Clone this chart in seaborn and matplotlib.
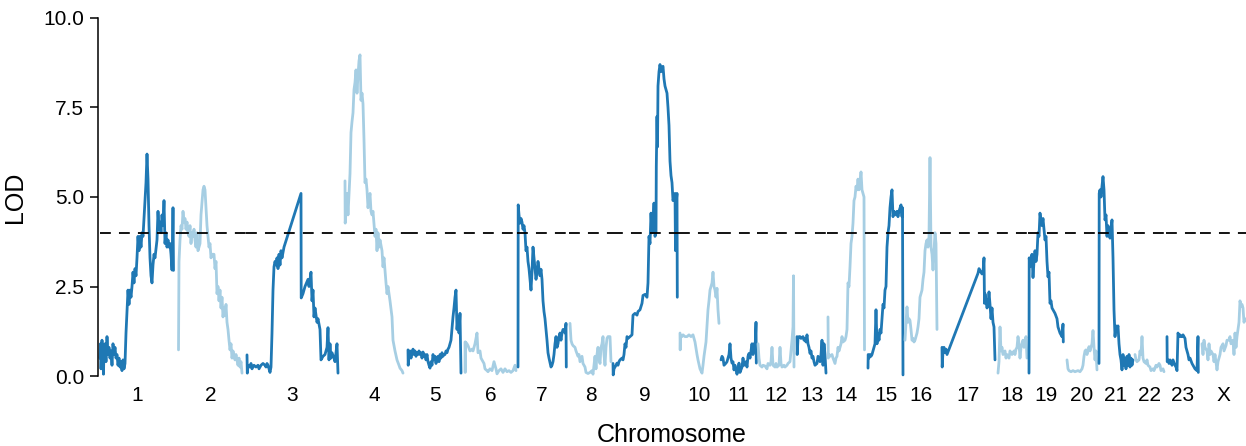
import matplotlib
matplotlib.use("Agg")
import matplotlib.pyplot as plt
import numpy as np
import pandas as pd
import seaborn as sns

# ---------------- data ----------------
chrom_names = ["1", "2", "3", "4", "5", "6", "7", "8", "9", "10", "11", "12",
               "13", "14", "15", "16", "17", "18", "19", "20", "21", "22", "23", "X"]
chrom_lengths = [78, 68, 98, 63, 57, 53, 52, 43, 67, 41, 37, 39,
                 31, 40, 37, 36, 57, 31, 37, 33, 36, 32, 34, 46]
threshold = 4.0

chr1_scan = [(0, 0.5), (0.5, 0.9), (1, 0.2), (2, 1.0), (3, 0.4), (3.5, 0.05), (4, 0.8), (5, 0.9), (6, 0.4),
             (7, 1.1), (8, 0.6), (9, 0.8), (10, 0.5), (11, 0.7), (12, 0.3), (13, 0.9), (14, 0.6), (15, 0.8),
             (16, 0.5), (17, 0.6), (18, 0.3), (19, 0.5), (20, 0.25), (21, 0.4), (22, 0.15), (23, 0.45),
             (24, 0.2), (25, 0.35), (26, 1.2), (28, 2.4), (29, 2.0), (30, 2.4), (31, 2.2), (32, 2.5),
             (33, 2.9), (34, 2.6), (35, 3.0), (36, 2.8), (37, 3.3), (38, 3.9), (39, 3.5), (40, 3.9),
             (41, 3.6), (42, 4.0), (43, 3.9), (44, 4.4), (45, 4.9), (46, 5.4), (47, 6.2), (48, 5.5),
             (49, 4.2), (50, 3.3), (51, 2.8), (52, 2.6), (53, 3.1), (54, 3.4), (55, 3.3), (57, 3.8),
             (58, 4.6), (59, 4.1), (60, 4.3), (61, 4.0), (62, 4.5), (63, 4.2), (64, 4.9), (65, 3.7),
             (66, 4.0), (67, 3.6), (68, 3.8), (69, 3.6), (70, 3.7), (71, 3.4), (72, 2.96), (72.5, 3.6),
             (73, 4.7), (73.5, 2.95)]
chr2_scan = [(0.5, 0.73), (1, 3.2), (2, 3.8), (3, 4.2), (4, 4.1), (5, 4.6), (6, 4.3), (7, 4.4), (8, 4.1),
             (9, 4.3), (10, 4.0), (11, 3.9), (12, 4.2), (13, 3.7), (14, 4.0), (15, 3.9), (16, 4.1),
             (17, 3.8), (18, 3.6), (19, 4.0), (20, 3.5), (22, 3.7), (23, 4.5), (25, 5.2), (26, 5.3),
             (27, 5.2), (28, 4.7), (29, 4.2), (30, 3.9), (31, 3.6), (32, 3.7), (33, 3.3), (34, 3.4),
             (36, 3.4), (37, 3.0), (38, 3.2), (39, 2.3), (40, 2.5), (41, 2.1), (42, 2.4), (43, 1.9),
             (44, 2.2), (45, 1.65), (46, 1.9), (47, 1.7), (48, 2.0), (49, 1.5), (50, 1.3), (51, 1.0),
             (52, 0.73), (53, 0.9), (54, 0.5), (55, 0.7), (57, 0.45), (58, 0.6), (60, 0.3), (61, 0.5),
             (62, 0.25), (63, 0.4), (64, 0.08)]
chr3_scan = [(1, 0.59), (1.3, 0.08), (2, 0.3), (4, 0.25), (5, 0.35), (6, 0.2), (8, 0.3), (10, 0.25),
             (12, 0.3), (13, 0.2), (15, 0.3), (17, 0.35), (19, 0.3), (20, 0.25), (21, 0.35), (22, 0.3),
             (23, 0.2), (24, 0.1), (25, 0.25), (26, 1.2), (27, 2.4), (28, 3.05), (29, 3.2), (30, 3.1),
             (31, 3.3), (32, 3.0), (33, 3.4), (34, 3.1), (35, 3.5), (36, 3.3), (38, 3.6), (55, 5.1),
             (55.2, 2.18), (57, 2.3), (59, 2.5), (62, 2.7), (63, 2.5), (65, 2.9), (66, 2.1), (67, 2.4),
             (68, 1.65), (69, 1.9), (71, 1.5), (72, 1.6), (74, 1.3), (75, 0.45), (77, 0.55), (79, 0.6),
             (81, 0.8), (82, 1.35), (83, 0.45), (84, 0.9), (85, 0.5), (86, 0.65), (88, 0.5), (89, 0.4),
             (91, 0.9), (92, 0.08)]
chr4_scan = [(1, 5.45), (1.2, 4.27), (2, 4.6), (3, 5.1), (4, 4.5), (6, 5.65), (7, 6.8), (8, 7.1),
             (9, 7.35), (10, 8.0), (11, 8.2), (12, 8.55), (13, 7.9), (14, 8.4), (15, 8.8), (16, 8.97),
             (17, 7.7), (18, 7.9), (19, 7.6), (20, 6.6), (21, 5.4), (22, 5.5), (23, 5.2), (24, 4.7),
             (25, 4.9), (26, 5.1), (27, 4.6), (28, 4.5), (29, 4.6), (31, 3.9), (32, 4.1), (33, 3.5),
             (34, 4.0), (35, 3.6), (36, 3.8), (38, 3.5), (39, 3.05), (40, 3.3), (42, 2.6), (43, 2.3),
             (44, 2.5), (46, 2.1), (48, 1.65), (49, 1.0), (51, 0.7), (53, 0.45), (55, 0.3), (56, 0.22),
             (58, 0.15), (59, 0.08)]
chr5_scan = [(1, 0.73), (1.2, 0.3), (2, 0.6), (3, 0.7), (4, 0.5), (5, 0.65), (6, 0.75), (7, 0.6),
             (8, 0.7), (9, 0.55), (10, 0.65), (11, 0.6), (12, 0.7), (13, 0.6), (14, 0.65), (15, 0.5),
             (16, 0.67), (17, 0.55), (18, 0.6), (19, 0.45), (20, 0.6), (21, 0.4), (22, 0.3), (23, 0.22),
             (24, 0.4), (25, 0.3), (26, 0.6), (27, 0.45), (28, 0.55), (29, 0.35), (30, 0.5), (31, 0.55),
             (32, 0.4), (33, 0.6), (34, 0.5), (35, 0.65), (36, 0.55), (37, 0.6), (38, 0.6), (39, 0.7),
             (40, 0.65), (41, 0.75), (42, 0.8), (44, 1.0), (46, 1.65), (47, 1.9), (48, 2.2), (49, 2.4),
             (50, 1.3), (51, 1.65), (52, 1.2), (53, 1.75), (54, 0.08)]
chr6_scan = [(1, 0.95), (1.2, 0.1), (1.5, 0.95), (3, 0.9), (4, 0.85), (6, 0.7), (8, 0.75), (9, 0.7),
             (11, 0.9), (13, 1.2), (14, 0.65), (16, 0.7), (17, 0.5), (18, 0.45), (20, 0.35), (21, 0.2),
             (23, 0.15), (24, 0.12), (26, 0.2), (28, 0.15), (30, 0.4), (32, 0.2), (33, 0.06), (35, 0.15),
             (37, 0.2), (39, 0.1), (41, 0.2), (43, 0.12), (45, 0.15), (47, 0.1), (49, 0.15), (51, 0.3),
             (52, 0.15)]
chr7_scan = [(1, 0.25), (1.2, 4.78), (2, 4.5), (3, 4.27), (4, 4.4), (5, 4.3), (6, 4.1), (7, 4.2),
             (8, 4.0), (9, 3.5), (10, 3.6), (11, 3.2), (12, 3.0), (13, 2.7), (14, 2.4), (15, 2.9),
             (16, 3.6), (17, 3.3), (18, 3.0), (19, 2.7), (20, 2.9), (21, 3.2), (22, 3.0), (23, 2.8),
             (24, 2.98), (25, 2.7), (26, 2.1), (27, 1.8), (28, 1.6), (29, 1.3), (30, 1.0), (31, 0.65),
             (32, 0.5), (34, 0.25), (35, 0.3), (36, 0.4), (37, 0.6), (38, 0.9), (39, 1.1), (40, 0.8),
             (41, 0.9), (42, 1.1), (43, 1.2), (44, 1.0), (45, 1.2), (46, 1.3), (47, 1.3), (48, 1.2),
             (49, 1.47), (49.3, 0.25)]
chr8_scan = [(1, 1.47), (2, 1.0), (3, 0.9), (4, 0.85), (6, 0.8), (7, 0.7), (9, 0.55), (10, 0.6),
             (11, 0.4), (13, 0.55), (14, 0.35), (16, 0.25), (17, 0.1), (19, 0.07), (21, 0.1), (23, 0.15),
             (24, 0.05), (26, 0.55), (27, 0.2), (28, 0.6), (29, 0.8), (30, 0.5), (31, 0.35), (32, 0.8),
             (33, 0.9), (34, 1.1), (35, 0.6), (36, 0.3), (37, 0.8), (38, 1.05), (39, 1.1), (40, 1.1),
             (41, 1.1), (42, 0.4)]
chr9_scan = [(1, 0.35), (1.2, 0.03), (2, 0.2), (3, 0.25), (4, 0.3), (5, 0.36), (6, 0.3), (7, 0.4),
             (8, 0.45), (10, 0.5), (11, 0.45), (12, 0.6), (13, 0.9), (14, 0.8), (15, 1.1), (16, 1.05),
             (18, 1.1), (20, 1.15), (21, 1.7), (23, 1.75), (25, 1.7), (26, 1.8), (28, 1.85), (30, 2.03),
             (31, 2.25), (33, 2.28), (35, 2.2), (36, 2.6), (37, 3.9), (38, 3.7), (39, 4.55), (40, 4.0),
             (41, 4.3), (42, 4.83), (43, 3.9), (44, 4.0), (44.3, 5.85), (45, 7.25), (45.5, 6.4),
             (46, 8.1), (47, 8.5), (48, 8.7), (49, 8.5), (50, 8.6), (51, 8.65), (52, 8.3), (53, 8.1),
             (55, 7.9), (56, 7.5), (57, 7.0), (58, 6.0), (59, 5.6), (60, 5.4), (61, 4.9), (62, 5.0),
             (63, 5.1), (63.5, 3.5), (64, 4.8), (65, 5.1), (65.3, 2.2)]
chr10_scan = [(1, 1.2), (1.2, 0.73), (1.5, 1.15), (3, 1.1), (4, 1.15), (6, 1.1), (8, 1.1), (10, 1.15),
              (12, 1.1), (14, 1.15), (16, 0.95), (18, 0.6), (19, 0.45), (21, 0.2), (23, 0.08), (24, 0.3),
              (25, 0.55), (27, 0.95), (29, 1.85), (30, 2.1), (31, 2.4), (33, 2.6), (34, 2.9), (35, 2.5),
              (36, 2.4), (37, 2.2), (38, 2.45), (39, 1.85), (40, 1.47)]
chr11_scan = [(1, 0.45), (2, 0.55), (3, 0.5), (4, 0.3), (6, 0.36), (7, 0.4), (9, 0.6), (10, 0.9),
              (11, 0.5), (12, 0.36), (13, 0.4), (14, 0.17), (15, 0.3), (17, 0.05), (18, 0.2), (19, 0.36),
              (20, 0.1), (22, 0.25), (23, 0.5), (24, 0.3), (26, 0.4), (27, 0.25), (28, 0.55), (29, 0.63),
              (30, 0.5), (32, 0.9), (33, 0.6), (34, 0.9), (35, 0.7), (36, 1.5), (36.3, 0.36)]
chr12_scan = [(1, 0.9), (2, 0.5), (3, 0.3), (5, 0.25), (6, 0.3), (8, 0.28), (10, 0.2), (11, 0.35),
              (13, 0.3), (14, 0.4), (15, 0.8), (16, 0.3), (18, 0.25), (19, 0.35), (20, 0.25), (22, 0.3),
              (23, 0.8), (24, 0.35), (25, 0.25), (27, 0.3), (28, 0.25), (30, 0.3), (31, 0.35), (33, 0.4),
              (35, 1.0), (36, 1.37), (36.5, 2.8), (37, 0.25)]
chr13_scan = [(1, 1.1), (1.2, 0.6), (2, 1.05), (3, 1.1), (4, 1.1), (5, 1.05), (7, 1.1), (8, 1.0),
              (9, 1.05), (10, 0.95), (11, 1.15), (12, 0.9), (13, 0.8), (14, 0.63), (15, 0.7), (16, 0.5),
              (17, 0.55), (18, 0.4), (19, 0.3), (21, 0.35), (22, 0.55), (24, 0.4), (25, 0.6), (26, 1.0),
              (27, 0.3), (28, 0.9), (29, 0.6), (30, 0.08)]
chr14_scan = [(1, 1.65), (1.3, 0.5), (2, 0.6), (3, 0.55), (5, 0.6), (6, 0.5), (8, 0.35), (9, 0.5),
              (10, 0.55), (11, 0.8), (12, 0.7), (14, 0.9), (15, 1.1), (16, 0.95), (18, 1.0), (19, 1.1),
              (20, 1.3), (21, 2.6), (22, 2.5), (23, 3.05), (24, 3.7), (25, 3.9), (26, 4.27), (27, 4.9),
              (28, 5.0), (29, 5.3), (30, 5.2), (31, 5.5), (32, 5.2), (33, 5.4), (34, 5.7), (35, 5.2),
              (36, 5.1), (37, 5.0), (37.5, 0.73)]
chr15_scan = [(1, 0.22), (1.2, 0.6), (2, 0.5), (3, 0.6), (4, 0.55), (5, 0.6), (6, 0.7), (8, 0.9),
              (9, 1.85), (10, 0.9), (11, 1.2), (12, 1.0), (13, 1.3), (14, 1.2), (15, 1.6), (16, 2.0),
              (17, 1.9), (18, 2.4), (19, 2.5), (20, 3.6), (21, 4.0), (22, 4.2), (23, 4.7), (24, 5.0),
              (25, 5.2), (26, 4.45), (27, 4.6), (28, 4.55), (29, 4.5), (30, 4.6), (31, 4.45), (32, 4.6),
              (34, 4.78), (35, 4.45), (35.5, 4.7), (36, 0.03)]
chr16_scan = [(1, 1.0), (2, 1.5), (3, 1.93), (4, 1.5), (5, 1.6), (6, 1.55), (7, 1.3), (8, 1.0),
              (9, 1.05), (10, 0.95), (11, 1.0), (12, 1.1), (13, 1.2), (14, 1.37), (15, 1.6), (16, 2.2),
              (17, 2.3), (18, 2.4), (19, 2.7), (20, 2.9), (21, 3.5), (22, 3.7), (23, 3.8), (24, 3.6),
              (25, 3.9), (26, 6.1), (27, 3.6), (28, 3.4), (29, 2.96), (30, 3.5), (31, 4.0), (32, 3.7),
              (33, 1.3)]
chr17_scan = [(2, 0.8), (2.2, 0.25), (3, 0.7), (4, 0.8), (5, 0.65), (6, 0.75), (7, 0.6), (38, 2.87),
              (39, 3.0), (40, 2.95), (41, 2.9), (42, 2.85), (43, 2.9), (44, 3.3), (44.5, 2.03), (45, 2.3),
              (46, 2.1), (47, 1.9), (48, 2.0), (49, 2.35), (50, 2.0), (51, 1.6), (52, 1.9), (53, 1.5),
              (54, 1.37), (55, 0.45)]
chr18_scan = [(1, 0.08), (2, 0.4), (3, 1.37), (4, 0.7), (5, 0.8), (6, 0.6), (8, 0.7), (9, 0.5),
              (10, 0.6), (11, 0.55), (12, 0.5), (13, 0.7), (15, 0.6), (16, 0.65), (17, 0.7), (18, 0.6),
              (19, 0.75), (20, 0.8), (21, 1.1), (22, 0.9), (23, 0.5), (24, 0.8), (25, 0.9), (26, 1.0),
              (27, 0.8), (28, 1.0), (29, 1.1), (30, 0.5)]
chr19_scan = [(1, 0.08), (1.2, 3.3), (2, 3.05), (3, 3.3), (4, 3.4), (5, 2.75), (6, 3.2), (7, 3.5),
              (8, 3.2), (9, 3.4), (10, 4.0), (11, 3.9), (12, 4.55), (13, 4.3), (14, 4.2), (15, 4.4),
              (16, 4.1), (17, 3.8), (18, 3.9), (19, 3.2), (20, 2.77), (21, 2.9), (22, 2.03), (23, 2.1),
              (24, 1.9), (25, 1.85), (27, 1.75), (29, 1.6), (30, 1.37), (32, 1.2), (34, 1.1), (35, 1.45),
              (35.3, 0.95)]
chr20_scan = [(2, 0.45), (3, 0.2), (4, 0.15), (6, 0.12), (8, 0.15), (10, 0.12), (13, 0.15), (15, 0.12),
              (17, 0.2), (18, 0.3), (19, 0.55), (20, 0.7), (21, 0.73), (22, 0.6), (24, 0.82), (25, 0.7),
              (27, 0.9), (28, 1.27), (29, 0.8), (30, 0.45), (31, 0.7), (32, 0.17)]
chr21_scan = [(1, 0.35), (1.2, 5.1), (2, 5.2), (3, 5.0), (4, 5.3), (5, 5.57), (6, 5.2), (7, 4.36),
              (8, 4.5), (9, 3.9), (10, 4.2), (11, 4.0), (12, 3.85), (13, 4.1), (14, 4.36), (15, 3.3),
              (16, 1.85), (17, 1.1), (18, 1.4), (19, 1.3), (20, 1.4), (21, 0.9), (22, 0.6), (23, 0.45),
              (24, 0.17), (25, 0.6), (26, 0.3), (27, 0.5), (28, 0.2), (29, 0.55), (30, 0.3), (31, 0.6),
              (32, 0.25), (33, 0.5), (34, 0.3), (35, 0.45)]
chr22_scan = [(1, 0.6), (2, 0.45), (3, 0.4), (5, 0.45), (6, 0.7), (7, 0.6), (8, 1.1), (9, 0.5),
              (10, 0.4), (12, 0.35), (13, 0.45), (14, 0.3), (16, 0.25), (17, 0.15), (19, 0.2), (20, 0.15),
              (22, 0.3), (23, 0.25), (25, 0.35), (26, 0.3), (27, 0.15), (29, 0.2), (30, 0.12)]
chr23_scan = [(1, 1.1), (1.2, 0.4), (2, 0.45), (3, 0.35), (4, 0.45), (5, 0.4), (6, 0.3), (7, 0.45),
              (9, 0.3), (10, 0.25), (11, 0.15), (12, 1.2), (13, 1.1), (14, 1.15), (15, 1.1), (16, 1.1),
              (17, 1.15), (19, 1.05), (20, 0.8), (21, 0.7), (22, 0.6), (23, 0.45), (24, 0.5), (26, 0.35),
              (27, 0.3), (29, 0.2), (31, 0.15), (32, 1.1), (32.3, 0.1)]
chrX_scan = [(2, 0.9), (3, 0.6), (4, 1.0), (5, 0.8), (7, 0.7), (8, 0.45), (9, 0.9), (10, 0.6),
             (11, 0.7), (13, 0.6), (14, 0.4), (15, 0.6), (17, 0.17), (18, 0.4), (20, 0.6), (21, 0.8),
             (23, 0.9), (24, 0.7), (26, 0.85), (27, 1.0), (29, 1.0), (30, 1.1), (31, 0.9), (33, 1.0),
             (34, 0.6), (35, 1.2), (36, 0.8), (37, 1.1), (38, 1.3), (39, 1.5), (40, 2.1), (41, 1.95),
             (42, 2.0), (43, 1.9), (44, 1.5), (45, 1.6)]

scans = [chr1_scan, chr2_scan, chr3_scan, chr4_scan, chr5_scan, chr6_scan, chr7_scan, chr8_scan,
         chr9_scan, chr10_scan, chr11_scan, chr12_scan, chr13_scan, chr14_scan, chr15_scan,
         chr16_scan, chr17_scan, chr18_scan, chr19_scan, chr20_scan, chr21_scan, chr22_scan,
         chr23_scan, chrX_scan]

# ---------------- build table ----------------
offsets = np.concatenate([[0], np.cumsum(chrom_lengths)[:-1]])
rows = []
for i, (name, scan) in enumerate(zip(chrom_names, scans)):
    for order, (p, l) in enumerate(scan):
        rows.append({"chrom": name, "idx": i, "order": order,
                     "gpos": offsets[i] + p, "lod": l})
df = pd.DataFrame(rows)

# ---------------- style ----------------
sns.set_theme(style="ticks")
plt.rcParams["font.family"] = ["Liberation Sans", "DejaVu Sans"]

pal = sns.color_palette("Paired", 2)
light, dark = pal[0], pal[1]

fig = plt.figure(figsize=(12.46, 4.46), dpi=100)
ax = fig.add_axes([98 / 1246, 70 / 446, 1148 / 1246, 358 / 446])

for i, name in enumerate(chrom_names):
    sub = df[df["chrom"] == name]
    sns.lineplot(data=sub, x="gpos", y="lod", sort=False, estimator=None,
                 color=dark if i % 2 == 0 else light, linewidth=2.0, ax=ax,
                 legend=False, clip_on=False)
    ax.plot([offsets[i], offsets[i] + chrom_lengths[i]], [threshold, threshold],
            color="black", linewidth=1.3, linestyle=(0, (6, 4.5)), zorder=5)

mids = [offsets[i] + (min(p for p, _ in s) + max(p for p, _ in s)) / 2
        for i, s in enumerate(scans)]

ax.set_xlim(-2, sum(chrom_lengths))
ax.set_ylim(0, 10)
ax.set_yticks([0, 2.5, 5, 7.5, 10])
ax.set_yticklabels(["0.0", "2.5", "5.0", "7.5", "10.0"])
ax.set_xticks(mids)
ax.set_xticklabels(chrom_names)

ax.tick_params(axis="x", length=0, pad=7, labelsize=15, colors="black")
ax.tick_params(axis="y", length=6, width=1.1, pad=4, labelsize=15, colors="black")
sns.despine(ax=ax, bottom=True)
ax.spines["left"].set_linewidth(1.1)
ax.spines["left"].set_color("black")

ax.set_xlabel("Chromosome", fontsize=18, labelpad=13, color="black")
ax.set_ylabel("LOD", fontsize=18, labelpad=12, color="black")

fig.savefig("out.png", dpi=100)
